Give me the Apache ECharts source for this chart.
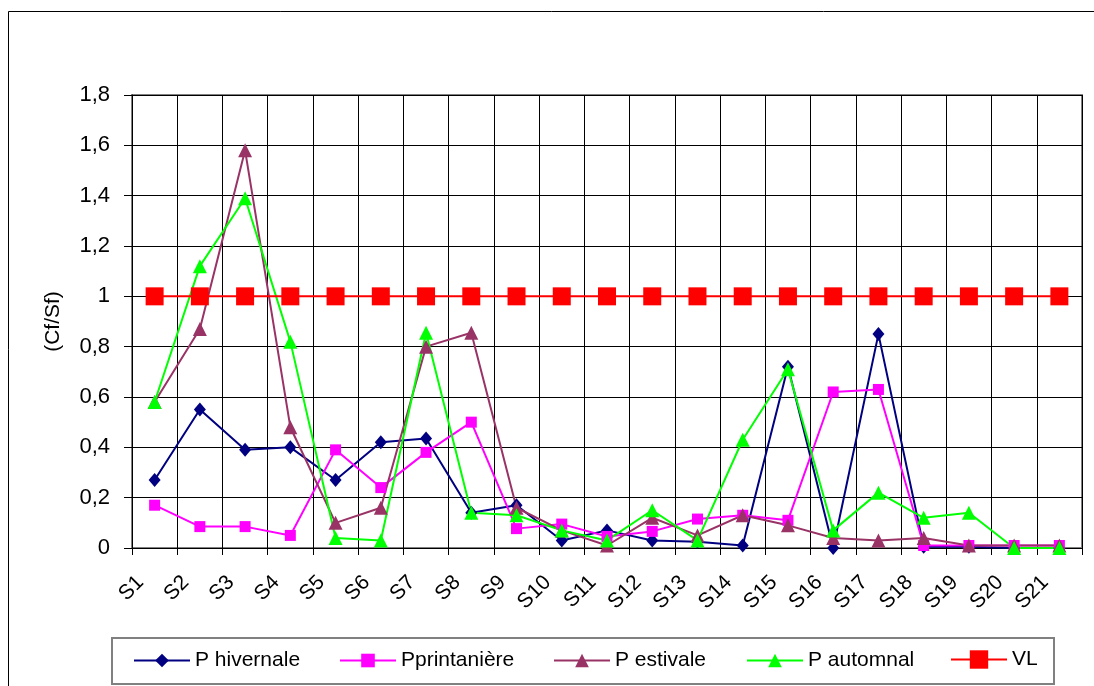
<!DOCTYPE html>
<html>
<head>
<meta charset="utf-8">
<script src="https://cdn.jsdelivr.net/npm/echarts@6/dist/echarts.min.js"></script>
<style>
html,body{margin:0;padding:0;background:#fff;}
#chart{width:1094px;height:686px;}
</style>
</head>
<body>
<div id="chart"></div>
<script>
const categories = ['S1','S2','S3','S4','S5','S6','S7','S8','S9','S10','S11','S12','S13','S14','S15','S16','S17','S18','S19','S20','S21'];
const yTicks = [0, 0.2, 0.4, 0.6, 0.8, 1, 1.2, 1.4, 1.6, 1.8];
const pHivernale = [0.27,0.55,0.39,0.40,0.27,0.42,0.435,0.14,0.17,0.03,0.07,0.03,0.025,0.01,0.72,0.0,0.85,0.005,0.005,0.0,0.0];
const pPrintaniere = [0.17,0.085,0.085,0.05,0.39,0.24,0.38,0.50,0.077,0.095,0.046,0.066,0.115,0.13,0.11,0.62,0.63,0.01,0.01,0.01,0.01];
const pEstivale = [0.58,0.87,1.58,0.48,0.10,0.16,0.80,0.855,0.16,0.07,0.01,0.12,0.05,0.13,0.09,0.04,0.03,0.04,0.01,0.01,0.01];
const pAutomnal = [0.58,1.12,1.39,0.82,0.04,0.03,0.855,0.14,0.13,0.07,0.03,0.15,0.03,0.43,0.71,0.07,0.22,0.12,0.14,0.0,0.0];
const vl = [1,1,1,1,1,1,1,1,1,1,1,1,1,1,1,1,1,1,1,1,1];
const names = ['P hivernale','Pprintanière','P estivale','P automnal','VL'];

const FONT = "'Liberation Sans', Arial, sans-serif";
const chart = echarts.init(document.getElementById('chart'), null, {renderer:'canvas'});

function mkSeries(name, data, color, symbol, size){
  return {
    name, type:'line', data, symbol, symbolSize:size,
    showAllSymbol:true,
    lineStyle:{color, width:2},
    itemStyle:{color, borderWidth:0},
    emphasis:{disabled:true},
    animation:false
  };
}
function mkLegend(name, left, h, top){
  return {
    data:[name], left, top, padding:0,
    itemWidth:56, itemHeight:h,
    textStyle:{fontFamily:FONT, fontSize:21, color:'#000'},
    selectedMode:false
  };
}

chart.setOption({
  animation:false,
  backgroundColor:'#fff',
  graphic:[
    {type:'rect', shape:{x:8.5, y:11.5, width:1100, height:700}, style:{fill:null, stroke:'#000', lineWidth:1}, silent:true, z:-1},
    {type:'rect', shape:{x:112, y:638, width:942, height:46}, style:{fill:null, stroke:'#808080', lineWidth:2}, silent:true}
  ],
  grid:{left:132, top:95, width:950, height:453, show:true, borderColor:'#808080', borderWidth:2, backgroundColor:'transparent'},
  legend:[
    mkLegend(names[0], 133, 17, 650),
    mkLegend(names[1], 339, 17, 650),
    mkLegend(names[2], 553, 17, 650),
    mkLegend(names[3], 746, 17, 650),
    mkLegend(names[4], 950, 23, 649)
  ],
  xAxis:{
    type:'category', data:categories, boundaryGap:true,
    axisLine:{lineStyle:{color:'#000', width:1}},
    axisTick:{show:true, length:7, interval:0, lineStyle:{color:'#000'}},
    splitLine:{show:true, interval:0, lineStyle:{color:'#000', width:1}},
    axisLabel:{interval:0, rotate:45, margin:17, padding:[0,20,0,0], fontFamily:FONT, fontSize:21, color:'#000'}
  },
  yAxis:{
    type:'value', min:0, max:1.8, interval:0.2,
    name:'(Cf/Sf)', nameLocation:'middle', nameGap:68, nameRotate:90,
    nameTextStyle:{fontFamily:FONT, fontSize:21, color:'#000'},
    axisLine:{show:true, lineStyle:{color:'#000', width:1}},
    axisTick:{show:true, length:8, lineStyle:{color:'#000'}},
    splitLine:{show:true, lineStyle:{color:'#000', width:1}},
    axisLabel:{margin:22, fontFamily:FONT, fontSize:22, color:'#000',
      formatter:v => String(Math.round(v*10)/10).replace('.', ',')}
  },
  series:[
    mkSeries(names[0], pHivernale, '#000080', 'diamond', [12,14]),
    mkSeries(names[1], pPrintaniere, '#FF00FF', 'rect', 11),
    mkSeries(names[2], pEstivale, '#993366', 'triangle', 14),
    mkSeries(names[3], pAutomnal, '#00FF00', 'triangle', 14),
    mkSeries(names[4], vl, '#FF0000', 'rect', 18)
  ]
});
</script>
</body>
</html>
